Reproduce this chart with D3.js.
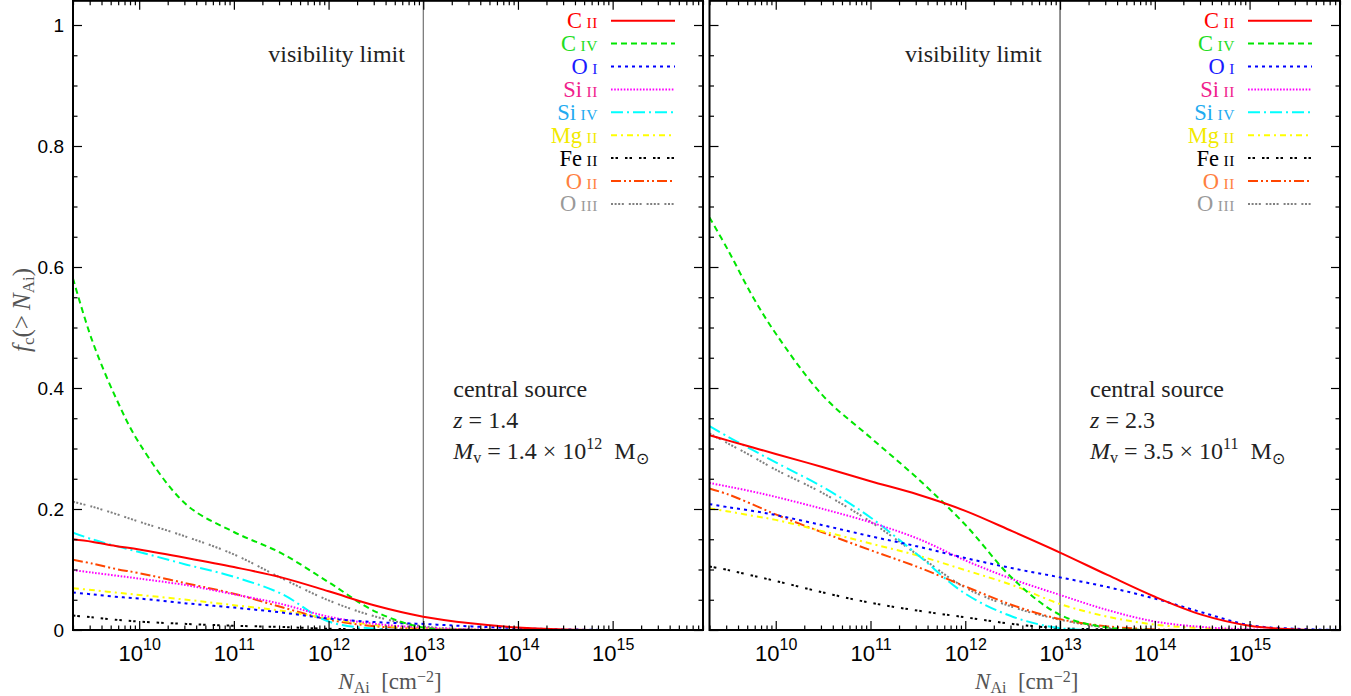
<!DOCTYPE html>
<html><head><meta charset="utf-8">
<script src="https://cdn.jsdelivr.net/npm/d3@7"></script>
<style>body{margin:0;background:#fff}svg{display:block}</style>
</head><body><svg id="c" width="1351" height="696"></svg>
<script>
// ---------------- data ----------------
const logN = [9.301, 9.5, 9.75, 10, 10.5, 11, 11.5, 12, 12.5, 13, 13.5, 14, 14.5, 15, 15.5, 15.954];
const ionElements = ["C", "C", "O", "Si", "Si", "Mg", "Fe", "O", "O"];
const ionStages   = ["II", "IV", "I", "II", "IV", "II", "II", "II", "III"];

// left panel: central source, z = 1.4
const leftCII  = [0.150, 0.146, 0.139, 0.133, 0.119, 0.104, 0.087, 0.064, 0.040, 0.022, 0.011, 0.004, 0.001, 0, 0, 0];
const leftCIV  = [0.581, 0.480, 0.385, 0.309, 0.207, 0.162, 0.127, 0.079, 0.030, 0.004, 0, 0, 0, 0, 0, 0];
const leftOI   = [0.062, 0.059, 0.055, 0.052, 0.044, 0.037, 0.029, 0.019, 0.013, 0.010, 0.006, 0.003, 0.001, 0, 0, 0];
const leftSiII = [0.099, 0.095, 0.090, 0.085, 0.074, 0.059, 0.043, 0.022, 0.010, 0.004, 0.001, 0, 0, 0, 0, 0];
const leftSiIV = [0.161, 0.150, 0.139, 0.129, 0.108, 0.088, 0.060, 0.014, 0.002, 0, 0, 0, 0, 0, 0, 0];
const leftMgII = [0.069, 0.066, 0.062, 0.058, 0.050, 0.041, 0.032, 0.019, 0.008, 0.003, 0.001, 0, 0, 0, 0, 0];
const leftFeII = [0.024, 0.021, 0.017, 0.014, 0.010, 0.007, 0.005, 0.002, 0.001, 0, 0, 0, 0, 0, 0, 0];
const leftOII  = [0.116, 0.110, 0.101, 0.094, 0.077, 0.060, 0.038, 0.017, 0.006, 0.002, 0, 0, 0, 0, 0, 0];
const leftOIII = [0.212, 0.204, 0.192, 0.179, 0.154, 0.125, 0.086, 0.049, 0.022, 0.006, 0.001, 0, 0, 0, 0, 0];

// right panel: central source, z = 2.3
const rightCII  = [0.322, 0.313, 0.302, 0.291, 0.269, 0.246, 0.224, 0.197, 0.163, 0.128, 0.091, 0.055, 0.025, 0.007, 0.001, 0];
const rightCIV  = [0.682, 0.627, 0.553, 0.490, 0.387, 0.318, 0.250, 0.174, 0.085, 0.025, 0.004, 0, 0, 0, 0, 0];
const rightOI   = [0.208, 0.203, 0.197, 0.190, 0.173, 0.155, 0.138, 0.119, 0.102, 0.087, 0.071, 0.052, 0.029, 0.008, 0.002, 0];
const rightSiII = [0.243, 0.237, 0.229, 0.220, 0.200, 0.178, 0.151, 0.115, 0.084, 0.058, 0.033, 0.014, 0.005, 0.001, 0, 0];
const rightSiIV = [0.337, 0.319, 0.298, 0.277, 0.236, 0.186, 0.124, 0.060, 0.022, 0.003, 0, 0, 0, 0, 0, 0];
const rightMgII = [0.201, 0.196, 0.189, 0.182, 0.163, 0.143, 0.123, 0.099, 0.074, 0.043, 0.022, 0.009, 0.003, 0, 0, 0];
const rightFeII = [0.105, 0.099, 0.090, 0.081, 0.062, 0.045, 0.032, 0.021, 0.010, 0.003, 0.001, 0, 0, 0, 0, 0];
const rightOII  = [0.234, 0.224, 0.208, 0.191, 0.161, 0.132, 0.104, 0.072, 0.041, 0.018, 0.006, 0.001, 0, 0, 0, 0];
const rightOIII = [0.325, 0.308, 0.287, 0.265, 0.226, 0.179, 0.124, 0.070, 0.038, 0.017, 0.004, 0, 0, 0, 0, 0];

const xMajorExp = [10, 11, 12, 13, 14, 15];
const yMajorTicks = [0, 0.2, 0.4, 0.6, 0.8, 1];
const visibilityLimit = 1e13;
const panelInfo = [
  {z: "1.4", mant: "1.4", exp: "12"},
  {z: "2.3", mant: "3.5", exp: "11"}
];

// ---------------- styles ----------------
const lineColors = ["#ff0000", "#00e600", "#0000ff", "#ff00ff", "#00ffff", "#ffff00", "#000000", "#ff4500", "#808080"];
const textColors = ["#ff0000", "#22dd22", "#1a1aff", "#f0208c", "#22aaf0", "#f2ea00", "#000000", "#ff8040", "#999999"];
const dashes = [null, "6,4", "3,4", "1.6,1.6", "12,4,2,4", "6,4,2,4", "2.5,2,2.5,7", "10,3,2,3,2,3", "2,1.6,2,1.6,2,1.6,2,5"];

// ---------------- layout ----------------
const svg = d3.select("#c");
const yTopPx = 630 - 1.04 * 605;
const y = d3.scaleLinear().domain([0, 1.04]).range([630, yTopPx]);
const panels = [
  {x0: 73, x1: 703, series: [leftCII, leftCIV, leftOI, leftSiII, leftSiIV, leftMgII, leftFeII, leftOII, leftOIII]},
  {x0: 709.5, x1: 1340, series: [rightCII, rightCIV, rightOI, rightSiII, rightSiIV, rightMgII, rightFeII, rightOII, rightOIII]}
];
const serif = "'Liberation Serif', 'Times New Roman', serif";
const sans = "'Liberation Sans', Arial, sans-serif";

const minorX = [];
for (let e = 9; e <= 15; e++) for (let m = 2; m <= 9; m++) {
  const v = m * Math.pow(10, e);
  if (v >= 2e9 && v <= 9e15) minorX.push(v);
}
const minorY = d3.range(0, 1.04, 0.05).filter(v => Math.abs(v / 0.2 - Math.round(v / 0.2)) > 1e-6);

panels.forEach((p, pi) => {
  const x = d3.scaleLog().domain([2e9, 9e15]).range([p.x0, p.x1]);
  const g = svg.append("g");
  const clipId = "clip" + pi;
  svg.append("clipPath").attr("id", clipId).append("rect")
    .attr("x", p.x0).attr("y", yTopPx).attr("width", p.x1 - p.x0).attr("height", 630 - yTopPx);

  // visibility limit line
  g.append("line").attr("x1", x(visibilityLimit)).attr("x2", x(visibilityLimit))
    .attr("y1", yTopPx).attr("y2", 630).attr("stroke", pi === 0 ? "#555" : "#222").attr("stroke-width", 1);

  // curves
  const line = d3.line().x((d, i) => x(Math.pow(10, logN[i]))).y(d => y(d)).curve(d3.curveCatmullRom.alpha(0.5));
  const cg = g.append("g").attr("clip-path", `url(#${clipId})`);
  for (let k = p.series.length - 1; k >= 0; k--) {
    cg.append("path").attr("d", line(p.series[k])).attr("fill", "none")
      .attr("stroke", lineColors[k]).attr("stroke-width", 2)
      .attr("stroke-dasharray", dashes[k]);
  }

  // axes
  const tickStyle = sel => { sel.select(".domain").remove(); sel.selectAll("line").attr("stroke", "#000").attr("stroke-width", 1.2); };
  const majorXVals = xMajorExp.map(e => Math.pow(10, e));
  const bottom = g.append("g").attr("transform", "translate(0,630)")
    .call(d3.axisBottom(x).tickValues(majorXVals).tickSizeInner(-9).tickSizeOuter(0).tickPadding(15));
  bottom.call(tickStyle);
  bottom.selectAll(".tick text").each(function(d) {
    const t = d3.select(this).text(null).attr("font-family", sans).attr("font-size", 22).attr("fill", "#000").attr("dy", "0.71em");
    t.append("tspan").text("10");
    t.append("tspan").attr("font-size", 16).attr("dy", -11).text(Math.round(Math.log10(d)));
  });
  g.append("g").attr("transform", "translate(0,630)")
    .call(d3.axisBottom(x).tickValues(minorX).tickSizeInner(-4.5).tickSizeOuter(0).tickFormat(""))
    .call(tickStyle);
  g.append("g").attr("transform", `translate(0,${yTopPx})`)
    .call(d3.axisTop(x).tickValues(majorXVals).tickSizeInner(-9).tickSizeOuter(0).tickFormat(""))
    .call(tickStyle);
  g.append("g").attr("transform", `translate(0,${yTopPx})`)
    .call(d3.axisTop(x).tickValues(minorX).tickSizeInner(-4.5).tickSizeOuter(0).tickFormat(""))
    .call(tickStyle);

  const left = g.append("g").attr("transform", `translate(${p.x0},0)`)
    .call(d3.axisLeft(y).tickValues(yMajorTicks).tickSizeInner(-9).tickSizeOuter(0).tickPadding(9)
      .tickFormat(pi === 0 ? d3.format("~g") : ""));
  left.call(tickStyle);
  left.selectAll(".tick text").attr("font-family", sans).attr("font-size", 19).attr("fill", "#000");
  g.append("g").attr("transform", `translate(${p.x0},0)`)
    .call(d3.axisLeft(y).tickValues(minorY).tickSizeInner(-4.5).tickSizeOuter(0).tickFormat(""))
    .call(tickStyle);
  g.append("g").attr("transform", `translate(${p.x1},0)`)
    .call(d3.axisRight(y).tickValues(yMajorTicks).tickSizeInner(-9).tickSizeOuter(0).tickFormat(""))
    .call(tickStyle);
  g.append("g").attr("transform", `translate(${p.x1},0)`)
    .call(d3.axisRight(y).tickValues(minorY).tickSizeInner(-4.5).tickSizeOuter(0).tickFormat(""))
    .call(tickStyle);

  // frame
  g.append("rect").attr("x", p.x0).attr("y", yTopPx).attr("width", p.x1 - p.x0).attr("height", 630 - yTopPx)
    .attr("fill", "none").attr("stroke", "#000").attr("stroke-width", 2);

  // x axis title
  const xt = g.append("text").attr("x", (p.x0 + p.x1) / 2 + 2).attr("y", 689).attr("text-anchor", "middle")
    .attr("font-family", serif).attr("font-size", 23).attr("fill", "#555");
  xt.append("tspan").attr("font-style", "italic").text("N");
  xt.append("tspan").attr("font-size", 16).attr("dy", 4).text("Ai");
  xt.append("tspan").attr("dy", -4).text("\u2002[cm");
  xt.append("tspan").attr("font-size", 16).attr("dy", -7).text("\u22122");
  xt.append("tspan").attr("dy", 7).text("]");

  // legend
  const legendTextX = p.x1 - 105, lx0 = p.x1 - 92, lx1 = p.x1 - 28;
  ionElements.forEach((el, k) => {
    const cy = 20.7 + k * 22.9;
    const t = g.append("text").attr("x", legendTextX).attr("y", cy + 7.5).attr("text-anchor", "end")
      .attr("font-family", serif).attr("font-size", 22.5).attr("fill", textColors[k]);
    t.append("tspan").text(el + "\u2009");
    t.append("tspan").attr("font-size", 15.5).attr("letter-spacing", 0.6).text(ionStages[k]);
    g.append("line").attr("x1", lx0).attr("x2", lx1).attr("y1", cy).attr("y2", cy)
      .attr("stroke", lineColors[k]).attr("stroke-width", 2).attr("stroke-dasharray", dashes[k]);
  });

  // annotations
  g.append("text").attr("x", x(visibilityLimit) - 155).attr("y", 62)
    .attr("font-family", serif).attr("font-size", 24).attr("fill", "#222").text("visibility limit");
  const ax = x(visibilityLimit) + 30;
  g.append("text").attr("x", ax).attr("y", 397).attr("font-family", serif).attr("font-size", 24).attr("fill", "#222")
    .text("central source");
  const zt = g.append("text").attr("x", ax).attr("y", 428).attr("font-family", serif).attr("font-size", 24).attr("fill", "#222");
  zt.append("tspan").attr("font-style", "italic").text("z");
  zt.append("tspan").text(" = " + panelInfo[pi].z);
  const mt = g.append("text").attr("x", ax).attr("y", 459).attr("font-family", serif).attr("font-size", 24).attr("fill", "#222");
  mt.append("tspan").attr("font-style", "italic").text("M");
  mt.append("tspan").attr("font-size", 16).attr("dy", 4).text("v");
  mt.append("tspan").attr("dy", -4).text(" = " + panelInfo[pi].mant + " \u00d7 10");
  mt.append("tspan").attr("font-size", 16).attr("dy", -10).text(panelInfo[pi].exp);
  mt.append("tspan").attr("dy", 10).text("\u2002M");
  mt.append("tspan").attr("font-size", 16).attr("dy", 5).text("\u2299");
});

// y axis title
const yt = svg.append("text").attr("transform", "translate(30,310) rotate(-90)").attr("text-anchor", "middle")
  .attr("font-family", serif).attr("font-size", 25).attr("fill", "#555");
yt.append("tspan").attr("font-style", "italic").text("f");
yt.append("tspan").attr("font-size", 17).attr("dy", 4).text("c");
yt.append("tspan").attr("dy", -4).text("(>\u2009");
yt.append("tspan").attr("font-style", "italic").text("N");
yt.append("tspan").attr("font-size", 17).attr("dy", 4).text("Ai");
yt.append("tspan").attr("dy", -4).text(")");
</script>
</body></html>
